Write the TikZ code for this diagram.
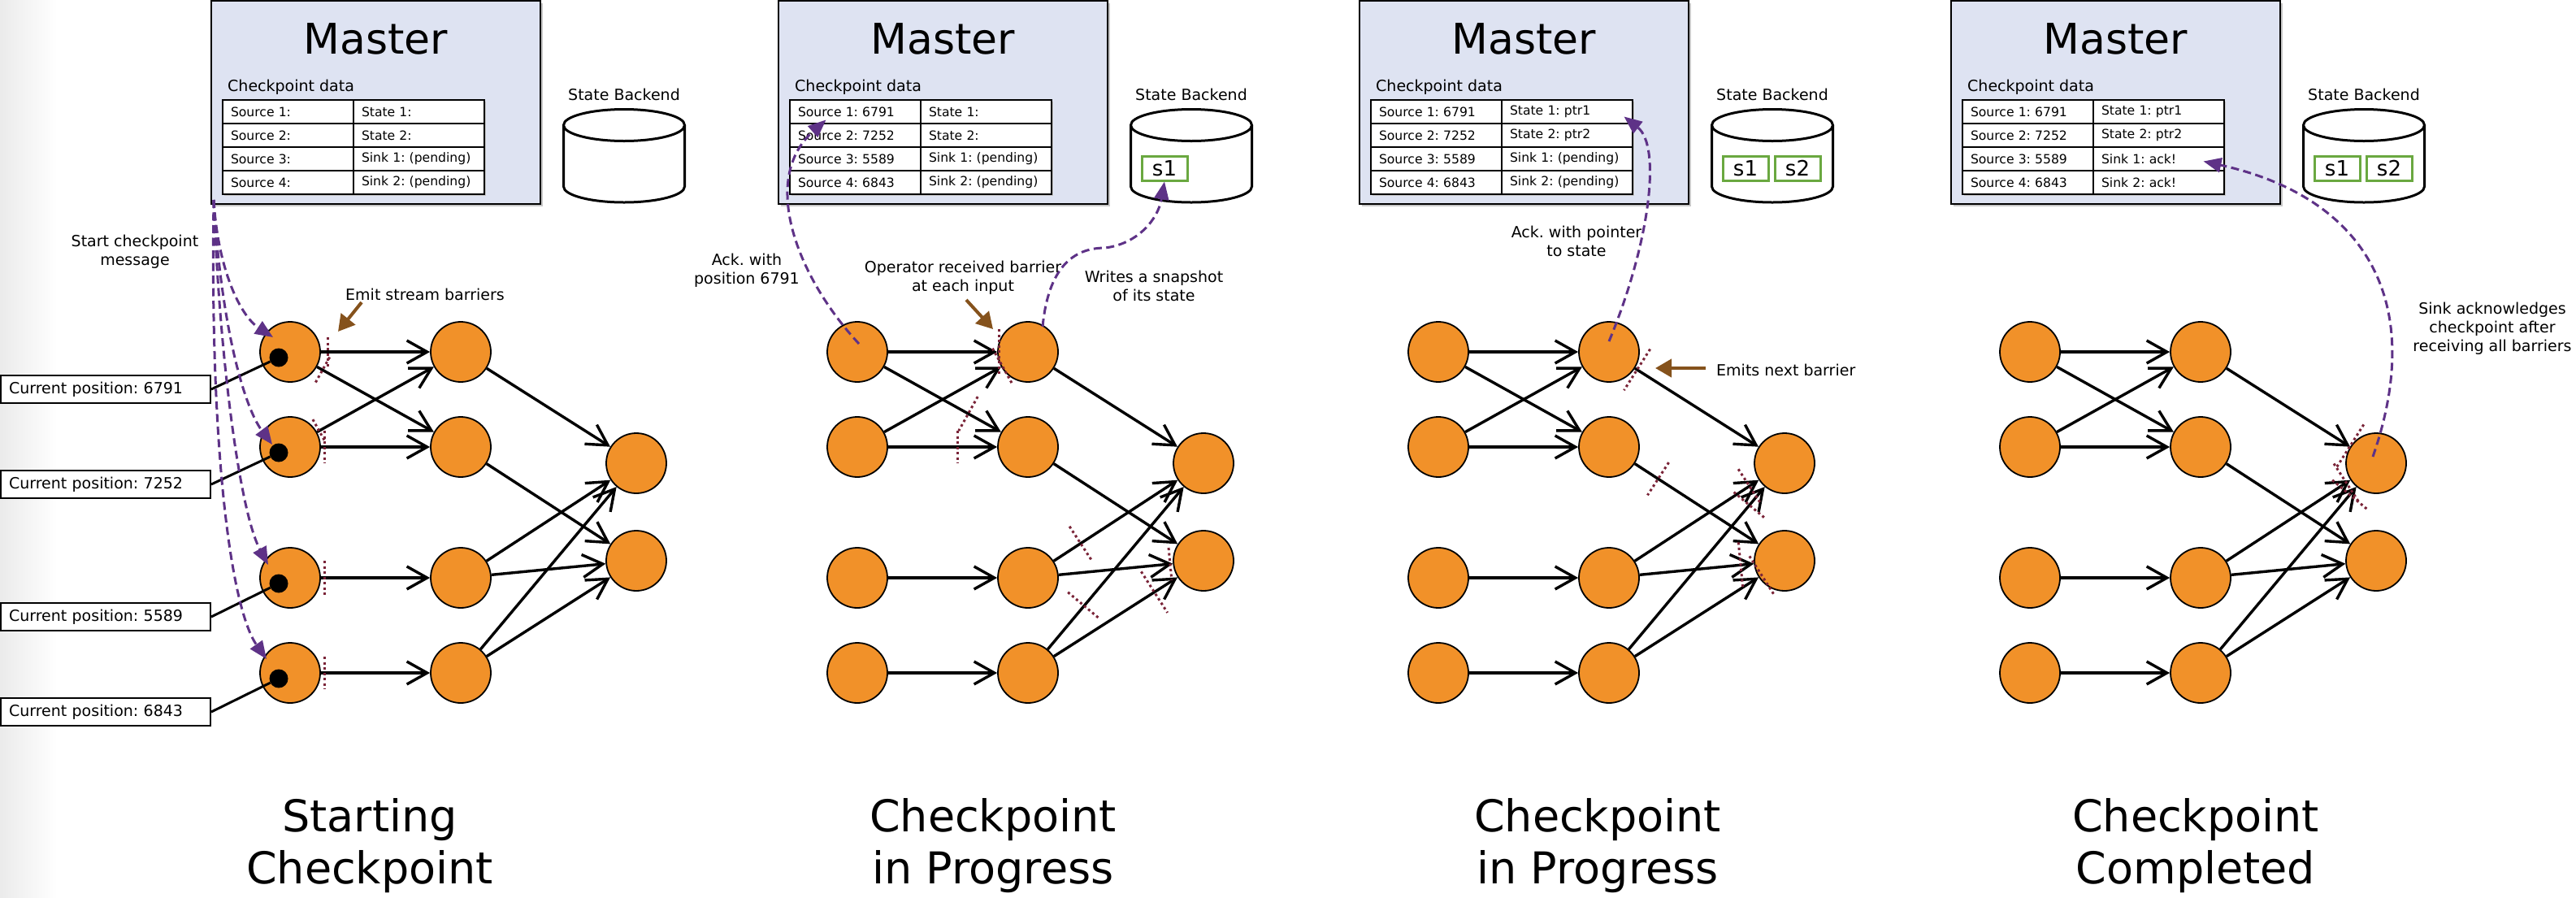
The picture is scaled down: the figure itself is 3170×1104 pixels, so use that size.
\documentclass[tikz,border=0pt]{standalone}
\usepackage{fontspec}
\setmainfont{DejaVu Sans}
\usetikzlibrary{arrows.meta,calc}
\frenchspacing

\definecolor{opfill}{RGB}{241,145,41}
\definecolor{ackpurple}{RGB}{94,50,135}
\definecolor{notebrown}{RGB}{133,82,28}
\definecolor{barriercol}{RGB}{122,36,56}
\definecolor{masterfill}{RGB}{222,227,242}
\definecolor{stategreen}{RGB}{106,168,64}

\tikzset{
  lbl/.style={align=center, inner sep=0pt, font=\fontsize{19}{23}\selectfont},
  stage/.style={align=center, inner sep=0pt, anchor=north, font=\fontsize{54}{64}\selectfont},
  mastertitle/.style={inner sep=0pt, font=\fontsize{52}{60}\selectfont},
  masterbox/.style={draw=black, line width=2.2pt, fill=masterfill, minimum width=405pt, minimum height=250pt, inner sep=0pt},
  cell/.style={draw=black, line width=1.6pt, fill=white, minimum width=161pt, minimum height=29pt,
    text width=141pt, inner xsep=10pt, inner ysep=0pt, align=left, font=\fontsize{15.6}{18}\selectfont},
  cpbox/.style={draw=black, line width=2pt, fill=white, minimum height=34pt, text width=238pt,
    inner xsep=10pt, inner ysep=0pt, align=left, font=\fontsize{19}{23}\selectfont},
  op/.style={circle, draw=black, line width=1.8pt, fill=opfill, minimum size=74pt, inner sep=0pt},
  dotn/.style={circle, fill=black, minimum size=23pt, inner sep=0pt},
  flow/.style={line width=3.4pt, -{Straight Barb[length=25pt,width=28pt]}},
  ack/.style={draw=ackpurple, line width=3pt, dash pattern=on 10pt off 5.5pt, -{Triangle[length=22pt,width=18pt]}},
  note/.style={draw=notebrown, line width=4pt, -{Triangle[length=20pt,width=22pt]}},
  barrier/.style={draw=barriercol, line width=3pt, dash pattern=on 3pt off 3.5pt},
  cyl/.style={draw=black, line width=3pt},
  statebox/.style={draw=stategreen, line width=3pt, fill=white, minimum width=56pt, minimum height=30pt,
    inner sep=0pt, font=\fontsize{26}{26}\selectfont},
}

% one stage: master with checkpoint table, state backend, and the operator graph
% #1 name prefix, #2 horizontal offset, #3 table rows (left/right)
\newcommand\stagepanel[3]{%
\begin{scope}[xshift=#2pt]
  \fill[black!22] (263,4) rectangle (668,254);
  \node[masterbox] (#1master) at (462.5,126) {};
  \node[mastertitle] (#1mtitle) at (462.5,48) {Master};
  \node[lbl, anchor=west] (#1cdata) at (280,107) {Checkpoint data};
  \fill[black!22] (276,125) rectangle (598,241);
  \foreach \lcell/\rcell [count=\rowno] in {#3} {
    \node[cell] (#1L\rowno) at (354.5,108.5+29*\rowno) {\lcell};
    \node[cell] (#1R\rowno) at (515.5,108.5+29*\rowno) {\rcell};
  }
  \node[lbl] (#1sblabel) at (768,116) {State Backend};
  \fill[white] (693.5,154) rectangle (842.5,229.5);
  \fill[white] (768,229.5) ellipse [x radius=74.5pt, y radius=19.5pt];
  \draw[cyl] (693.5,154) -- (693.5,229.5) arc[start angle=180, end angle=360, x radius=74.5pt, y radius=19.5pt] -- (842.5,154);
  \draw[cyl, fill=white] (768,154) ellipse [x radius=74.5pt, y radius=19.5pt];
  \foreach \nm/\yy in {1/433,2/550,3/711,4/828} {
    \node[op] (#1s\nm) at (357,\yy) {};
    \node[op] (#1m\nm) at (567,\yy) {};
  }
  \node[op] (#1k1) at (783,570) {};
  \node[op] (#1k2) at (783,690) {};
  \foreach \aa/\bb in {s1/m1,s1/m2,s2/m1,s2/m2,s3/m3,s4/m4,m1/k1,m2/k2,m3/k1,m3/k2,m4/k1,m4/k2}
    \draw[flow] (#1\aa) -- (#1\bb);
\end{scope}}

% a barrier: short dotted stroke across the edge #1 -> #2 at fraction #3, half length #4
\newcommand\markbarrier[4]{%
  \coordinate (bp) at ($(#1)!#3!(#2)$);
  \draw[barrier] ($(bp)!#4!90:(#2)$) -- ($(bp)!#4!-90:(#2)$);
}

\begin{document}
\begin{tikzpicture}[x=1pt,y=-1pt]
\useasboundingbox (0,0) rectangle (3170,1104);
\fill[white] (0,0) rectangle (3170,1104);
\shade[left color=black!8, right color=white] (0,0) rectangle (70,1104);

\stagepanel{p1}{0}{Source 1:/State 1:,Source 2:/State 2:,Source 3:/Sink 1: (pending),Source 4:/Sink 2: (pending)}
\stagepanel{p2}{698}{Source 1: 6791/State 1:,Source 2: 7252/State 2:,Source 3: 5589/Sink 1: (pending),Source 4: 6843/Sink 2: (pending)}
\stagepanel{p3}{1413}{Source 1: 6791/State 1: ptr1,Source 2: 7252/State 2: ptr2,Source 3: 5589/Sink 1: (pending),Source 4: 6843/Sink 2: (pending)}
\stagepanel{p4}{2141}{Source 1: 6791/State 1: ptr1,Source 2: 7252/State 2: ptr2,Source 3: 5589/Sink 1: ack!,Source 4: 6843/Sink 2: ack!}

% snapshots stored in the state backend
\node[statebox] (p2st1) at (1433,207) {s1};
\node[statebox] (p3st1) at (2148,207) {s1};
\node[statebox] (p3st2) at (2212,207) {s2};
\node[statebox] (p4st1) at (2876,207) {s1};
\node[statebox] (p4st2) at (2940,207) {s2};

% ---------- stage 1: starting the checkpoint ----------
\foreach \nm in {1,2,3,4} {
  \node[dotn] (p1d\nm) at ($(p1s\nm)+(-14,7)$) {};
}
\node[cpbox] (cp1) at (130,479) {Current position: 6791};
\node[cpbox] (cp2) at (130,596) {Current position: 7252};
\node[cpbox] (cp3) at (130,759) {Current position: 5589};
\node[cpbox] (cp4) at (130,876) {Current position: 6843};
\foreach \nm in {1,2,3,4} \draw[line width=3pt] (cp\nm.east) -- (p1d\nm);

\markbarrier{p1s1}{p1m1}{0.22}{18pt}
\markbarrier{p1s1}{p1m2}{0.19}{18pt}
\markbarrier{p1s2}{p1m1}{0.17}{16pt}
\markbarrier{p1s2}{p1m2}{0.2}{20pt}
\markbarrier{p1s3}{p1m3}{0.2}{21pt}
\markbarrier{p1s4}{p1m4}{0.2}{20pt}

\coordinate (p1go) at (263,246);
\draw[ack] (p1go) .. controls (268,330) and (295,388) .. ([shift={(-21,-18)}]p1s1.center);
\draw[ack] (p1go) .. controls (272,400) and (300,500) .. ([shift={(-22,-3)}]p1s2.center);
\draw[ack] (p1go) .. controls (270,440) and (295,630) .. ([shift={(-27,-16)}]p1s3.center);
\draw[ack] (p1go) .. controls (258,560) and (285,750) .. ([shift={(-29,-17)}]p1s4.center);

\node[lbl] (p1start) at (166,310) {Start checkpoint\\message};
\node[lbl, anchor=west] (p1emit) at (425,362) {Emit stream barriers};
\coordinate (p1na) at (445,372);
\coordinate (p1nb) at (416,408);
\draw[note] (p1na) -- (p1nb);

% ---------- stage 2: checkpoint in progress ----------
\markbarrier{p2s1}{p2m1}{0.83}{28pt}
\markbarrier{p2s2}{p2m1}{0.85}{25pt}
\markbarrier{p2s1}{p2m2}{0.65}{24pt}
\markbarrier{p2s2}{p2m2}{0.59}{20pt}
\markbarrier{p2m3}{p2k1}{0.3}{25pt}
\markbarrier{p2m4}{p2k1}{0.32}{26pt}
\markbarrier{p2m4}{p2k2}{0.72}{30pt}
\markbarrier{p2m3}{p2k2}{0.81}{20pt}

\draw[ack] ([shift={(2,-10)}]p2s1.center) .. controls (980,340) and (935,220) .. ([shift={(-36,10)}]p2L1.center);
\draw[ack] ([shift={(18,-31)}]p2m1.center) .. controls (1290,330) and (1320,305) .. (1360,305)
  .. controls (1400,300) and (1425,270) .. (p2st1.south);

\node[lbl] (p2ackl) at (919,333) {Ack. with\\position 6791};
\node[lbl] (p2recv) at (1185,342) {Operator received barrier\\at each input};
\node[lbl] (p2write) at (1420,352) {Writes a snapshot\\of its state};
\coordinate (p2na) at (1189,369);
\coordinate (p2nb) at (1222,405);
\draw[note] (p2na) -- (p2nb);

% ---------- stage 3: checkpoint in progress ----------
\markbarrier{p3m1}{p3k1}{0.16}{30pt}
\markbarrier{p3m2}{p3k2}{0.28}{24pt}
\markbarrier{p3m3}{p3k1}{0.8}{25pt}
\markbarrier{p3m4}{p3k1}{0.8}{25pt}
\markbarrier{p3m3}{p3k2}{0.75}{28pt}
\markbarrier{p3m4}{p3k2}{0.87}{28pt}

\draw[ack] ([shift={(0,-13)}]p3m1.center) .. controls (2030,300) and (2045,180) .. ([shift={(70,6)}]p3R1.center);
\node[lbl] (p3ackl) at (1940,297) {Ack. with pointer\\to state};
\node[lbl, anchor=west] (p3emit) at (2112,455) {Emits next barrier};
\coordinate (p3na) at (2099,453);
\coordinate (p3nb) at (2037,453);
\draw[note] (p3na) -- (p3nb);

% ---------- stage 4: checkpoint completed ----------
\markbarrier{p4m1}{p4k1}{0.85}{32pt}
\markbarrier{p4m3}{p4k1}{0.83}{28pt}
\markbarrier{p4m4}{p4k1}{0.85}{28pt}

\draw[ack] ([shift={(-4,-8)}]p4k1.center) .. controls (2990,360) and (2900,240) .. ([shift={(55,3)}]p4R3.center);
\node[lbl] (p4sink) at (3067,404) {Sink acknowledges\\checkpoint after\\receiving all barriers};

% ---------- stage captions ----------
\node[stage] (t1) at (455,982) {Starting\\Checkpoint};
\node[stage] (t2) at (1222,982) {Checkpoint\\in Progress};
\node[stage] (t3) at (1966,982) {Checkpoint\\in Progress};
\node[stage] (t4) at (2702,982) {Checkpoint\\Completed};
\end{tikzpicture}
\end{document}
